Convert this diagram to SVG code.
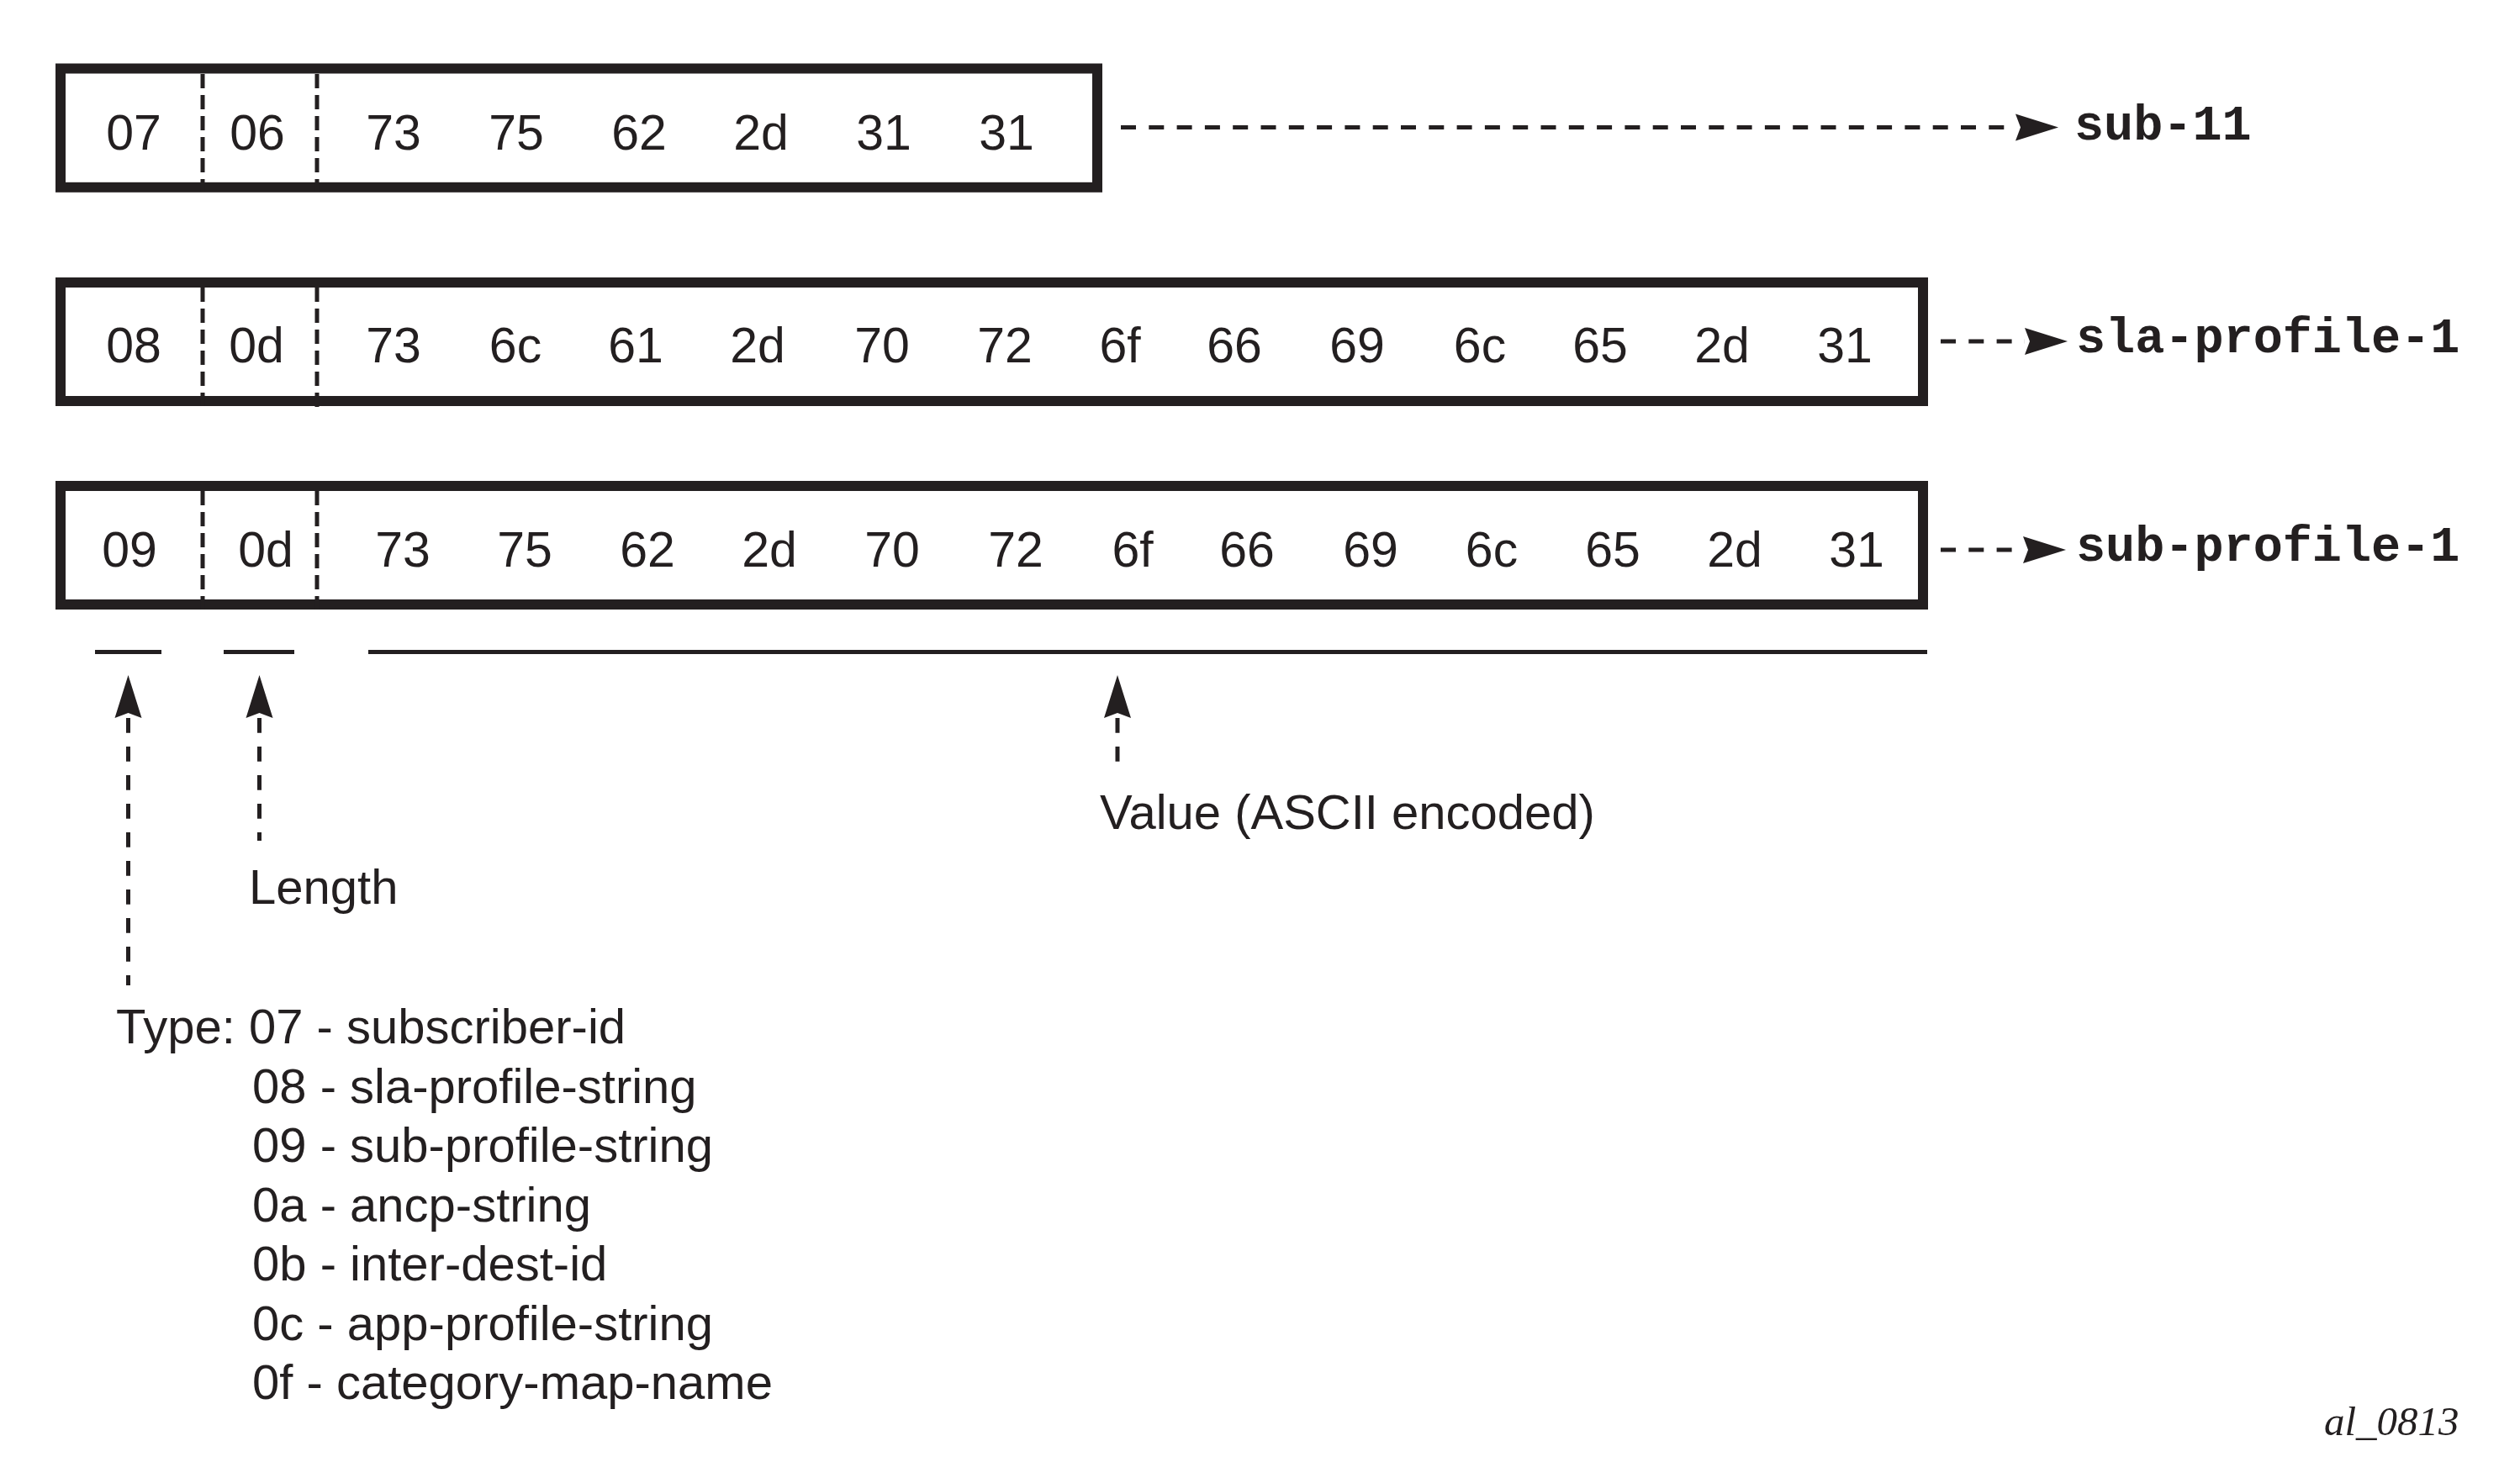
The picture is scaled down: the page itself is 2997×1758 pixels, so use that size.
<svg xmlns="http://www.w3.org/2000/svg" width="2997" height="1758" viewBox="0 0 2997 1758">
<style>
.box{fill:none;stroke:#231f20;stroke-width:12}
.sep{stroke:#231f20;stroke-width:5;stroke-dasharray:17 8}
.dl{stroke:#231f20;stroke-width:5;stroke-dasharray:18 15.3;fill:none}
.dv{stroke:#231f20;stroke-width:5;stroke-dasharray:17.7 16.3;fill:none}
.br{stroke:#231f20;stroke-width:5}
.n{font-family:"Liberation Sans",Arial,sans-serif;font-size:59px;fill:#231f20;text-anchor:middle}
.t{font-family:"Liberation Sans",Arial,sans-serif;font-size:58px;fill:#231f20}
.m{font-family:"Liberation Mono","Courier New",monospace;font-weight:bold;font-size:58.5px;fill:#231f20}
.id{font-family:"Liberation Serif","Times New Roman",serif;font-style:italic;font-size:49px;fill:#231f20}
</style>
<defs>
<marker id="ah" markerUnits="userSpaceOnUse" markerWidth="60" markerHeight="40" viewBox="0 -20 60 40" refX="0" refY="0" orient="auto-start-reverse" overflow="visible">
<path d="M0,-16 L51,0 L0,16 L6,0 Z" fill="#231f20"/>
</marker>
</defs>
<rect width="2997" height="1758" fill="#ffffff"/>

<g id="row1">
<rect class="box" x="72" y="81.5" width="1233" height="141.3"/>
<line class="sep" x1="241" y1="88" x2="241" y2="228"/>
<line class="sep" x1="377" y1="88" x2="377" y2="228"/>
<text class="n" y="178"><tspan x="159">07</tspan><tspan x="306">06</tspan><tspan x="468">73</tspan><tspan x="614">75</tspan><tspan x="760">62</tspan><tspan x="905">2d</tspan><tspan x="1051">31</tspan><tspan x="1197">31</tspan></text>
</g>

<g id="row2">
<rect class="box" x="72" y="336" width="2215" height="141"/>
<line class="sep" x1="241" y1="342" x2="241" y2="483"/>
<line class="sep" x1="377" y1="342" x2="377" y2="486"/>
<text class="n" y="431"><tspan x="159">08</tspan><tspan x="305">0d</tspan><tspan x="468">73</tspan><tspan x="613">6c</tspan><tspan x="756">61</tspan><tspan x="901">2d</tspan><tspan x="1049">70</tspan><tspan x="1195">72</tspan><tspan x="1332">6f</tspan><tspan x="1468">66</tspan><tspan x="1614">69</tspan><tspan x="1760">6c</tspan><tspan x="1903">65</tspan><tspan x="2048">2d</tspan><tspan x="2194">31</tspan></text>
</g>

<g id="row3">
<rect class="box" x="72" y="578" width="2215" height="141"/>
<line class="sep" x1="241" y1="584" x2="241" y2="725"/>
<line class="sep" x1="377" y1="584" x2="377" y2="725"/>
<text class="n" y="674"><tspan x="154">09</tspan><tspan x="316">0d</tspan><tspan x="479">73</tspan><tspan x="624">75</tspan><tspan x="770">62</tspan><tspan x="915">2d</tspan><tspan x="1061">70</tspan><tspan x="1208">72</tspan><tspan x="1347">6f</tspan><tspan x="1483">66</tspan><tspan x="1630">69</tspan><tspan x="1774">6c</tspan><tspan x="1918">65</tspan><tspan x="2063">2d</tspan><tspan x="2208">31</tspan></text>
</g>

<g id="brackets">
<line class="br" x1="113" y1="775.5" x2="192" y2="775.5"/>
<line class="br" x1="266" y1="775.5" x2="350" y2="775.5"/>
<line class="br" x1="438" y1="775.5" x2="2292" y2="775.5"/>
</g>

<g id="connectors">
<line class="dl" x1="1333" y1="151.5" x2="2397" y2="151.5" marker-end="url(#ah)"/>
<line class="dl" x1="2308" y1="406" x2="2408" y2="406" marker-end="url(#ah)"/>
<line class="dl" x1="2308" y1="654" x2="2406" y2="654" marker-end="url(#ah)"/>
<line class="dv" x1="152.5" y1="854" x2="152.5" y2="1172" marker-start="url(#ah)"/>
<line class="dv" x1="308.5" y1="854" x2="308.5" y2="1000" marker-start="url(#ah)"/>
<line class="dv" x1="1329" y1="854" x2="1329" y2="914" marker-start="url(#ah)"/>
</g>

<g id="labels">
<text class="m" x="2467" y="166">sub-11</text>
<text class="m" x="2469" y="419">sla-profile-1</text>
<text class="m" x="2469" y="667">sub-profile-1</text>
<text class="t" x="1308" y="986">Value (ASCII encoded)</text>
<text class="t" x="296" y="1075">Length</text>
</g>

<g id="type-legend">
<text class="t" x="138" y="1241">Type: 07 - subscriber-id</text>
<text class="t" x="300" y="1311.5">08 - sla-profile-string</text>
<text class="t" x="300" y="1382">09 - sub-profile-string</text>
<text class="t" x="300" y="1452.5">0a - ancp-string</text>
<text class="t" x="300" y="1523">0b - inter-dest-id</text>
<text class="t" x="300" y="1593.5">0c - app-profile-string</text>
<text class="t" x="300" y="1664">0f - category-map-name</text>
</g>

<text class="id" x="2764" y="1707">al_0813</text>
</svg>
